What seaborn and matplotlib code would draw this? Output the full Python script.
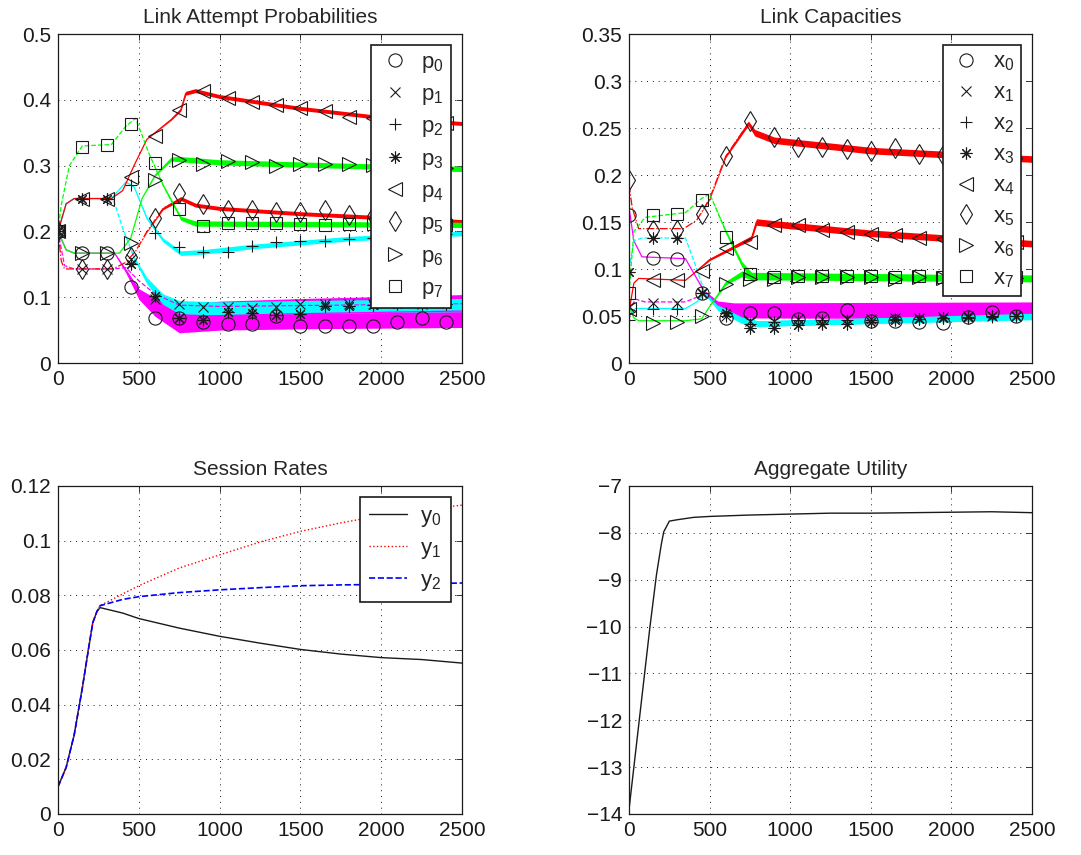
import seaborn as sns
import matplotlib.pyplot as plt
from matplotlib.ticker import FuncFormatter

# sample points where the black markers sit
steps = [0, 150, 300, 450, 600, 750, 900, 1050, 1200, 1350, 1500, 1650, 1800, 1950, 2100, 2250, 2400]

# ---- Link attempt probabilities (knots x, knots y, noise half-width, marker values)
p0_x = [0, 50, 100, 350, 420, 500, 600, 750, 1000, 1500, 2000, 2500]
p0_y = [0.2, 0.172, 0.167, 0.167, 0.14, 0.105, 0.085, 0.068, 0.072, 0.075, 0.077, 0.079]
p0_w = [0, 0, 0, 0, 0.003, 0.008, 0.014, 0.022, 0.022, 0.023, 0.024, 0.025]
p0_m = [0.2, 0.167, 0.167, 0.116, 0.068, 0.068, 0.063, 0.06, 0.06, 0.071, 0.056, 0.057, 0.056, 0.056, 0.062, 0.068, 0.063]

p1_x = [0, 40, 100, 340, 420, 500, 600, 750, 1000, 2500]
p1_y = [0.2, 0.148, 0.143, 0.143, 0.145, 0.125, 0.105, 0.088, 0.086, 0.09]
p1_w = [0, 0, 0, 0, 0, 0, 0, 0, 0, 0]
p1_m = [0.2, 0.143, 0.143, 0.158, 0.098, 0.09, 0.085, 0.085, 0.083, 0.085, 0.09, 0.09, 0.09, 0.09, 0.092, 0.09, 0.092]

p2_x = [0, 50, 100, 330, 420, 470, 550, 650, 760, 900, 1200, 1800, 2500]
p2_y = [0.2, 0.242, 0.25, 0.25, 0.275, 0.268, 0.22, 0.187, 0.167, 0.169, 0.177, 0.189, 0.197]
p2_w = [0, 0, 0, 0, 0, 0.001, 0.002, 0.003, 0.0035, 0.0035, 0.0035, 0.0035, 0.0035]
p2_m = [0.2, 0.25, 0.25, 0.27, 0.197, 0.177, 0.168, 0.169, 0.178, 0.184, 0.185, 0.186, 0.188, 0.19, 0.192, 0.194, 0.196]

p3_x = [0, 50, 100, 340, 400, 470, 550, 650, 750, 1000, 1500, 2500]
p3_y = [0.2, 0.242, 0.25, 0.25, 0.205, 0.16, 0.125, 0.097, 0.085, 0.083, 0.085, 0.088]
p3_w = [0, 0, 0, 0, 0, 0.002, 0.005, 0.008, 0.01, 0.01, 0.01, 0.01]
p3_m = [0.2, 0.25, 0.25, 0.15, 0.102, 0.068, 0.066, 0.078, 0.076, 0.073, 0.075, 0.086, 0.086, 0.088, 0.09, 0.09, 0.09]

p4_x = [0, 50, 100, 330, 400, 470, 550, 700, 760, 790, 850, 1000, 1500, 2000, 2500]
p4_y = [0.2, 0.242, 0.25, 0.25, 0.262, 0.3, 0.34, 0.37, 0.385, 0.41, 0.414, 0.405, 0.387, 0.373, 0.364]
p4_w = [0, 0, 0, 0, 0, 0, 0, 0.001, 0.002, 0.003, 0.003, 0.003, 0.003, 0.003, 0.003]
p4_m = [0.2, 0.25, 0.25, 0.283, 0.345, 0.384, 0.414, 0.403, 0.397, 0.392, 0.387, 0.383, 0.374, 0.372, 0.369, 0.367, 0.365]

p5_x = [0, 20, 40, 340, 420, 480, 550, 650, 760, 850, 1000, 1500, 2500]
p5_y = [0.2, 0.155, 0.143, 0.143, 0.153, 0.17, 0.2, 0.235, 0.25, 0.24, 0.235, 0.227, 0.215]
p5_w = [0, 0, 0, 0, 0, 0, 0.001, 0.002, 0.003, 0.003, 0.003, 0.003, 0.003]
p5_m = [0.2, 0.143, 0.143, 0.161, 0.22, 0.258, 0.242, 0.233, 0.232, 0.23, 0.229, 0.232, 0.225, 0.224, 0.222, 0.22, 0.218]

p6_x = [0, 50, 100, 380, 450, 520, 600, 700, 750, 1000, 2500]
p6_y = [0.2, 0.172, 0.167, 0.167, 0.19, 0.25, 0.285, 0.31, 0.31, 0.305, 0.295]
p6_w = [0, 0, 0, 0, 0, 0, 0.001, 0.003, 0.004, 0.004, 0.004]
p6_m = [0.2, 0.167, 0.167, 0.182, 0.278, 0.308, 0.303, 0.307, 0.305, 0.3, 0.302, 0.302, 0.302, 0.301, 0.3, 0.298, 0.297]

p7_x = [0, 20, 70, 150, 330, 420, 480, 560, 650, 760, 850, 2500]
p7_y = [0.2, 0.24, 0.3, 0.33, 0.332, 0.36, 0.372, 0.32, 0.27, 0.22, 0.212, 0.21]
p7_w = [0, 0, 0, 0, 0, 0, 0, 0, 0.002, 0.003, 0.004, 0.004]
p7_m = [0.2, 0.329, 0.332, 0.363, 0.304, 0.234, 0.209, 0.213, 0.213, 0.213, 0.211, 0.21, 0.211, 0.211, 0.21, 0.21, 0.21]

# ---- Link capacities
x0_x = [0, 30, 80, 350, 420, 470, 550, 650, 2500]
x0_y = [0.165, 0.13, 0.113, 0.111, 0.09, 0.075, 0.062, 0.056, 0.056]
x0_w = [0, 0, 0, 0, 0, 0.002, 0.004, 0.008, 0.009]
x0_m = [0.157, 0.112, 0.111, 0.074, 0.048, 0.053, 0.053, 0.047, 0.048, 0.056, 0.045, 0.045, 0.044, 0.043, 0.049, 0.054, 0.05]

x1_x = [0, 40, 100, 350, 420, 470, 550, 700, 2500]
x1_y = [0.055, 0.068, 0.065, 0.065, 0.07, 0.074, 0.062, 0.056, 0.056]
x1_w = [0, 0, 0, 0, 0, 0, 0, 0, 0]
x1_m = [0.06, 0.064, 0.064, 0.074, 0.05, 0.045, 0.045, 0.047, 0.047, 0.047, 0.047, 0.048, 0.048, 0.049, 0.05, 0.05, 0.05]

x2_x = [0, 40, 350, 420, 470, 550, 700, 800, 1500, 2500]
x2_y = [0.05, 0.058, 0.058, 0.065, 0.074, 0.058, 0.045, 0.042, 0.045, 0.049]
x2_w = [0, 0, 0, 0, 0, 0.002, 0.003, 0.003, 0.003, 0.003]
x2_m = [0.046, 0.058, 0.058, 0.074, 0.05, 0.042, 0.044, 0.046, 0.046, 0.046, 0.046, 0.047, 0.047, 0.048, 0.048, 0.049, 0.05]

x3_x = [0, 30, 80, 350, 420, 470, 550, 700, 800, 1500, 2500]
x3_y = [0.1, 0.13, 0.133, 0.133, 0.1, 0.075, 0.06, 0.046, 0.042, 0.045, 0.05]
x3_w = [0, 0, 0, 0, 0, 0, 0.002, 0.003, 0.003, 0.003, 0.003]
x3_m = [0.097, 0.133, 0.133, 0.074, 0.053, 0.037, 0.037, 0.04, 0.041, 0.041, 0.044, 0.046, 0.047, 0.048, 0.049, 0.05, 0.05]

x4_x = [0, 30, 60, 350, 400, 500, 700, 760, 790, 900, 1500, 2500]
x4_y = [0.055, 0.085, 0.09, 0.088, 0.095, 0.11, 0.128, 0.133, 0.15, 0.148, 0.138, 0.127]
x4_w = [0, 0, 0, 0, 0, 0.001, 0.002, 0.0025, 0.0035, 0.0035, 0.0035, 0.0035]
x4_m = [0.058, 0.088, 0.088, 0.098, 0.122, 0.129, 0.147, 0.147, 0.142, 0.139, 0.137, 0.136, 0.133, 0.132, 0.131, 0.13, 0.129]

x5_x = [0, 20, 60, 340, 420, 500, 600, 740, 780, 900, 1500, 2500]
x5_y = [0.19, 0.165, 0.143, 0.143, 0.152, 0.175, 0.22, 0.255, 0.245, 0.237, 0.226, 0.217]
x5_w = [0, 0, 0, 0, 0, 0.001, 0.0015, 0.0025, 0.0035, 0.0035, 0.0035, 0.0035]
x5_m = [0.195, 0.142, 0.142, 0.159, 0.22, 0.257, 0.24, 0.23, 0.23, 0.228, 0.226, 0.229, 0.222, 0.221, 0.22, 0.219, 0.218]

x6_x = [0, 30, 60, 350, 450, 500, 600, 700, 760, 2500]
x6_y = [0.06, 0.048, 0.045, 0.045, 0.047, 0.06, 0.085, 0.095, 0.092, 0.09]
x6_w = [0, 0, 0, 0, 0, 0, 0.002, 0.003, 0.0035, 0.0035]
x6_m = [0.055, 0.043, 0.044, 0.05, 0.084, 0.089, 0.089, 0.091, 0.092, 0.091, 0.091, 0.089, 0.091, 0.09, 0.09, 0.09, 0.09]

x7_x = [0, 30, 100, 350, 450, 500, 600, 700, 760, 2500]
x7_y = [0.075, 0.14, 0.155, 0.16, 0.175, 0.18, 0.14, 0.105, 0.093, 0.09]
x7_w = [0, 0, 0, 0, 0, 0, 0.002, 0.003, 0.0035, 0.0035]
x7_m = [0.075, 0.157, 0.159, 0.173, 0.134, 0.095, 0.091, 0.093, 0.093, 0.093, 0.093, 0.091, 0.093, 0.092, 0.092, 0.091, 0.091]

# ---- Session rates
rate_t = [0, 50, 100, 150, 190, 215, 240, 260, 400, 500, 750, 1000, 1250, 1500, 1750, 2000, 2250, 2500]
y0 = [0.01, 0.017, 0.029, 0.046, 0.061, 0.07, 0.074, 0.0755, 0.0735, 0.0715, 0.068, 0.065, 0.0625, 0.0602, 0.0585, 0.0572, 0.0565, 0.0552]
y1 = [0.01, 0.017, 0.029, 0.046, 0.061, 0.07, 0.074, 0.0762, 0.0805, 0.0835, 0.09, 0.0948, 0.0995, 0.1034, 0.1065, 0.1092, 0.1112, 0.113]
y2 = [0.01, 0.017, 0.029, 0.046, 0.061, 0.07, 0.074, 0.0762, 0.0785, 0.0795, 0.081, 0.082, 0.0828, 0.0835, 0.0838, 0.084, 0.0842, 0.0845]

# ---- Aggregate utility
util_t = [0, 50, 100, 130, 170, 200, 215, 250, 300, 400, 500, 750, 1000, 1250, 1500, 1750, 2000, 2250, 2500]
util = [-13.9, -12.4, -10.9, -10.0, -8.9, -8.25, -7.98, -7.75, -7.72, -7.67, -7.65, -7.62, -7.6, -7.58, -7.58, -7.57, -7.56, -7.55, -7.57]

sns.set_theme(style="white")
plt.rcParams['font.family'] = ['Liberation Sans', 'DejaVu Sans']
plt.rcParams['mathtext.fontset'] = 'custom'
plt.rcParams['mathtext.rm'] = 'Liberation Sans'
plt.rcParams['mathtext.it'] = 'Liberation Sans'

FS = 15
LFS = 16
RED, GREEN, CYAN, MAG = (1, 0, 0), (0, 1, 0), (0, 1, 1), (1, 0, 1)

fmt = FuncFormatter(lambda v, p: ('%g' % v).replace('-', '\u2212'))


def style_axes(ax, yticks, title):
    ax.set_xlim(0, 2500)
    ax.set_ylim(yticks[0], yticks[-1])
    ax.set_xticks([0, 500, 1000, 1500, 2000, 2500])
    ax.set_yticks(yticks)
    ax.yaxis.set_major_formatter(fmt)
    ax.tick_params(direction='in', top=True, right=True, length=4, width=0.6,
                   labelsize=FS, pad=5, colors='k')
    ax.grid(True, color='k', linestyle=(0, (1, 5)), linewidth=0.7)
    ax.set_axisbelow(True)
    for s in ax.spines.values():
        s.set_color('k')
        s.set_linewidth(0.9)
    ax.set_title(title, fontsize=FS, pad=8)
    ax.set_xlabel('')
    ax.set_ylabel('')


def draw_trace(ax, kx, ky, kw, color, ls):
    lo = [a - b for a, b in zip(ky, kw)]
    hi = [a + b for a, b in zip(ky, kw)]
    ax.fill_between(kx, lo, hi, color=color, lw=0)
    sns.lineplot(x=kx, y=ky, ax=ax, color=color, linestyle=ls, linewidth=0.9,
                 sort=False, errorbar=None)


def marker_legend(ax):
    ax.legend(loc='upper right', bbox_to_anchor=(0.972, 0.967), fontsize=LFS,
              frameon=True, fancybox=False, framealpha=1, edgecolor='k',
              borderpad=0.3, labelspacing=0.42, handlelength=1.5,
              handletextpad=0.45, borderaxespad=0)
    ax.get_legend().get_frame().set_linewidth(1.2)


marks = ['o', 'x', '+', (8, 2, 0), '<', 'd', '>', 's']
msizes = [9.5, 6.5, 8, 8.5, 10, 10.5, 10, 8]

fig = plt.figure(figsize=(10.81, 8.55), dpi=100)
ax_p = fig.add_axes([0.0537, 0.5754, 0.3737, 0.3848])
ax_x = fig.add_axes([0.5819, 0.5754, 0.3728, 0.3848])
ax_y = fig.add_axes([0.0537, 0.048, 0.3737, 0.3836])
ax_u = fig.add_axes([0.5819, 0.048, 0.3728, 0.3836])

# Link attempt probabilities
p_traces = [(p1_x, p1_y, p1_w, MAG, '--'), (p0_x, p0_y, p0_w, MAG, '-'),
            (p3_x, p3_y, p3_w, CYAN, '--'), (p2_x, p2_y, p2_w, CYAN, '-'),
            (p5_x, p5_y, p5_w, RED, '-.'), (p4_x, p4_y, p4_w, RED, '-'),
            (p7_x, p7_y, p7_w, GREEN, '--'), (p6_x, p6_y, p6_w, GREEN, '-')]
for kx, ky, kw, c, ls in p_traces:
    draw_trace(ax_p, kx, ky, kw, c, ls)
p_marks = [p0_m, p1_m, p2_m, p3_m, p4_m, p5_m, p6_m, p7_m]
for i, m in enumerate(p_marks):
    ax_p.plot(steps, m, linestyle='none', marker=marks[i], ms=msizes[i], mfc='none',
              mec='k', mew=0.8, label=r'$\mathrm{p_%d}$' % i)
style_axes(ax_p, [0, 0.1, 0.2, 0.3, 0.4, 0.5], 'Link Attempt Probabilities')
marker_legend(ax_p)

# Link capacities
x_traces = [(x1_x, x1_y, x1_w, MAG, '--'), (x0_x, x0_y, x0_w, MAG, '-'),
            (x3_x, x3_y, x3_w, CYAN, '--'), (x2_x, x2_y, x2_w, CYAN, '-'),
            (x5_x, x5_y, x5_w, RED, '-.'), (x4_x, x4_y, x4_w, RED, '-'),
            (x7_x, x7_y, x7_w, GREEN, '--'), (x6_x, x6_y, x6_w, GREEN, '-')]
for kx, ky, kw, c, ls in x_traces:
    draw_trace(ax_x, kx, ky, kw, c, ls)
x_marks = [x0_m, x1_m, x2_m, x3_m, x4_m, x5_m, x6_m, x7_m]
for i, m in enumerate(x_marks):
    ax_x.plot(steps, m, linestyle='none', marker=marks[i], ms=msizes[i], mfc='none',
              mec='k', mew=0.8, label=r'$\mathrm{x_%d}$' % i)
style_axes(ax_x, [0, 0.05, 0.1, 0.15, 0.2, 0.25, 0.3, 0.35], 'Link Capacities')
marker_legend(ax_x)

# Session rates
sns.lineplot(x=rate_t, y=y0, ax=ax_y, color='k', linestyle='-', linewidth=1.0,
             errorbar=None, label=r'$\mathrm{y_0}$')
sns.lineplot(x=rate_t, y=y1, ax=ax_y, color=RED, linestyle=':', linewidth=1.0,
             errorbar=None, label=r'$\mathrm{y_1}$')
sns.lineplot(x=rate_t, y=y2, ax=ax_y, color=(0, 0, 1), linestyle='--', linewidth=1.2,
             errorbar=None, label=r'$\mathrm{y_2}$')
style_axes(ax_y, [0, 0.02, 0.04, 0.06, 0.08, 0.1, 0.12], 'Session Rates')
leg = ax_y.legend(loc='upper right', bbox_to_anchor=(0.972, 0.966), fontsize=LFS,
                  frameon=True, fancybox=False, framealpha=1, edgecolor='k',
                  borderpad=0.4, labelspacing=0.4, handlelength=1.7,
                  handletextpad=0.6, borderaxespad=0)
leg.get_frame().set_linewidth(1.2)

# Aggregate utility
sns.lineplot(x=util_t, y=util, ax=ax_u, color='k', linewidth=1.0, errorbar=None)
style_axes(ax_u, [-14, -13, -12, -11, -10, -9, -8, -7], 'Aggregate Utility')

fig.savefig('out.png', dpi=100, facecolor='white')
